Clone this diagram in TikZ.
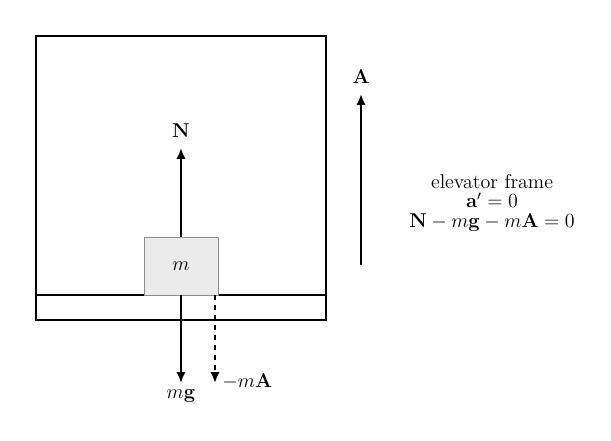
\documentclass[tikz,border=0pt]{standalone}
\usetikzlibrary{arrows.meta}
\begin{document}
\begin{tikzpicture}[x=0.6pt,y=-0.6pt,
  font=\fontsize{12}{12}\selectfont,
  frame/.style={line width=0.9pt},
  vec/.style={line width=1.2pt,-{Latex[length=6.5pt,width=5.5pt]}},
  lbl/.style={inner sep=0pt},
  txtline/.style={inner sep=0pt,anchor=base,text depth=0pt,text height=7.5pt}]
\useasboundingbox (0,0) rectangle (611,441);
\draw[frame] (36,36) rectangle (326,320);
\coordinate (fl) at (36,295);
\coordinate (fr) at (326,295);
\draw[frame] (fl) -- (fr);
\node[draw=black!45,fill=black!8,line width=0.6pt,minimum width=44.4pt,minimum height=34.2pt,inner sep=0pt] (m) at (181,266.5) {$m$};
\coordinate (ntip) at (181,148);
\draw[vec] (m.north) -- (ntip);
\node[lbl] (N) at (181,131) {$\mathbf{N}$};
\coordinate (gs) at (181,295);
\coordinate (gtip) at (181,383);
\draw[vec] (gs) -- (gtip);
\node[lbl] (mg) at (181,396) {$m\mathbf{g}$};
\coordinate (as) at (215,295);
\coordinate (atip) at (215,383);
\draw[vec,dashed] (as) -- (atip);
\node[lbl,anchor=west] (mA) at (222,381) {$-m\mathbf{A}$};
\coordinate (Abot) at (361,265);
\coordinate (Atop) at (361,94);
\draw[vec] (Abot) -- (Atop);
\node[lbl] (A) at (361,77) {$\mathbf{A}$};
\node[txtline] (t1) at (492,188.5) {elevator frame};
\node[txtline] (t2) at (492,208) {$\mathbf{a}'=0$};
\node[txtline,text depth=2.5pt] (t3) at (492,227.5) {$\mathbf{N}-m\mathbf{g}-m\mathbf{A}=0$};
\end{tikzpicture}
\end{document}
